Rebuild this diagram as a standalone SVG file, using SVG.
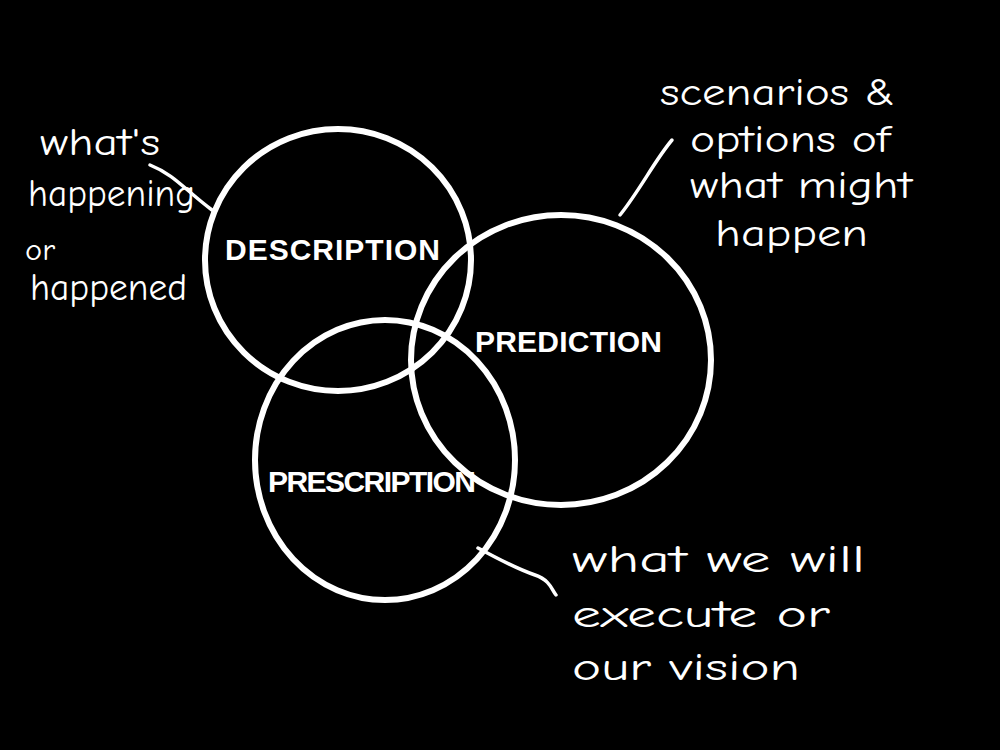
<svg xmlns="http://www.w3.org/2000/svg" width="1000" height="750" viewBox="0 0 1000 750">
<style>
.c{fill:none;stroke:#fff;stroke-width:6;stroke-linecap:round}
.l{fill:none;stroke:#fff;stroke-width:3.5;stroke-linecap:round}
.t{fill:#fff;font-family:"Comic Neue","DejaVu Sans",sans-serif;font-size:38px}
.s{font-size:30px}
.n{fill:#fff;font-family:"Liberation Sans",sans-serif;font-size:30px;font-weight:bold}
</style>
<rect width="1000" height="750" fill="#000"/>
<g id="description"><ellipse class="c" cx="338" cy="260" rx="133" ry="131"/><text class="n" x="225" y="260" textLength="215">DESCRIPTION</text></g>
<g id="prediction"><ellipse class="c" cx="561" cy="360" rx="150" ry="145"/><text class="n" x="475" y="352" textLength="187">PREDICTION</text></g>
<g id="prescription"><ellipse class="c" cx="385" cy="460" rx="130" ry="140"/><text class="n" x="268" y="492" textLength="208">PRESCRIPTION</text></g>
<g id="connectors">
<path class="l" d="M150,165 C175,175 185,190 212,210"/>
<path class="l" d="M620,215 C640,190 655,160 672,140"/>
<path class="l" d="M478,548 C500,560 520,570 535,575 C550,580 552,590 556,595"/>
</g>
<g id="notes">
<text class="t" x="40" y="155" textLength="120" lengthAdjust="spacingAndGlyphs">what's</text>
<text class="t" x="28" y="206" textLength="167" lengthAdjust="spacingAndGlyphs">happening</text>
<text class="t s" x="25" y="260" textLength="30" lengthAdjust="spacingAndGlyphs">or</text>
<text class="t" x="30" y="300" textLength="157" lengthAdjust="spacingAndGlyphs">happened</text>
<text class="t" x="660" y="105" textLength="235" lengthAdjust="spacingAndGlyphs">scenarios &amp;</text>
<text class="t" x="690" y="152" textLength="200" lengthAdjust="spacingAndGlyphs">options of</text>
<text class="t" x="690" y="198" textLength="222" lengthAdjust="spacingAndGlyphs">what might</text>
<text class="t" x="715" y="246" textLength="153" lengthAdjust="spacingAndGlyphs">happen</text>
<text class="t" x="572" y="572" textLength="293" lengthAdjust="spacingAndGlyphs">what we will</text>
<text class="t" x="572" y="627" textLength="258" lengthAdjust="spacingAndGlyphs">execute or</text>
<text class="t" x="572" y="680" textLength="228" lengthAdjust="spacingAndGlyphs">our vision</text>
</g>
</svg>
